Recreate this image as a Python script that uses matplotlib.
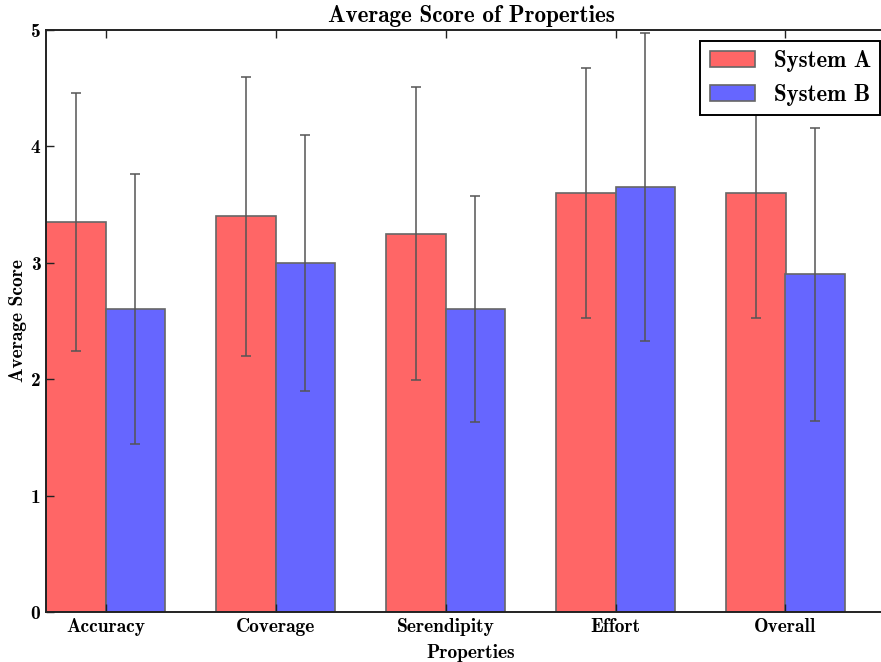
import numpy as np
import matplotlib
matplotlib.use("Agg")
import matplotlib.pyplot as plt

categories = ["Accuracy", "Coverage", "Serendipity", "Effort", "Overall"]
system_a = [3.35, 3.40, 3.25, 3.60, 3.60]
system_a_err = [1.11, 1.20, 1.26, 1.07, 1.07]
system_b = [2.60, 3.00, 2.60, 3.65, 2.90]
system_b_err = [1.16, 1.10, 0.97, 1.32, 1.26]
y_ticks = [0, 1, 2, 3, 4, 5]

FONT = "cmb10"
plt.rcParams["font.family"] = [FONT, "DejaVu Sans"]
plt.rcParams["axes.unicode_minus"] = False

W, H = 881, 662
fig = plt.figure(figsize=(W / 100, H / 100), dpi=100)
ax = fig.add_axes([46 / W, (H - 612) / H, 850 / W, 582 / H])

idx = np.arange(len(categories))
width = 0.35
err_kw = dict(ecolor="#555555", elinewidth=1.1, capsize=3.5, capthick=1.1)

ax.bar(idx, system_a, width, color="#ff6666", edgecolor="#666666", linewidth=1.2,
       align="edge", yerr=system_a_err, error_kw=err_kw, label="System A")
ax.bar(idx + width, system_b, width, color="#6666ff", edgecolor="#666666", linewidth=1.2,
       align="edge", yerr=system_b_err, error_kw=err_kw, label="System B")

ax.set_xlim(0, 5)
ax.set_ylim(0, 5)
ax.set_xticks(idx + width)
ax.set_xticklabels(categories, fontsize=14)
ax.set_yticks(y_ticks)
ax.set_yticklabels([str(t) for t in y_ticks], fontsize=14)
ax.tick_params(direction="in", length=6, width=1, top=True, right=True, pad=4,
               color="#222222")
for s in ax.spines.values():
    s.set_linewidth(1.4)
    s.set_color("#222222")

ax.set_title("Average Score of Properties", fontsize=16.7, pad=6)
ax.set_xlabel("Properties", fontsize=14, labelpad=6)
ax.set_ylabel("Average Score", fontsize=14, labelpad=3)

leg = ax.legend(loc="upper right", bbox_to_anchor=(880 / W, (H - 41) / H),
                bbox_transform=fig.transFigure, borderaxespad=0,
                fontsize=16.5, fancybox=False, framealpha=1, edgecolor="black",
                handlelength=2.0, handleheight=0.7)
leg.get_frame().set_linewidth(1.4)

fig.savefig("out.png", dpi=100)
